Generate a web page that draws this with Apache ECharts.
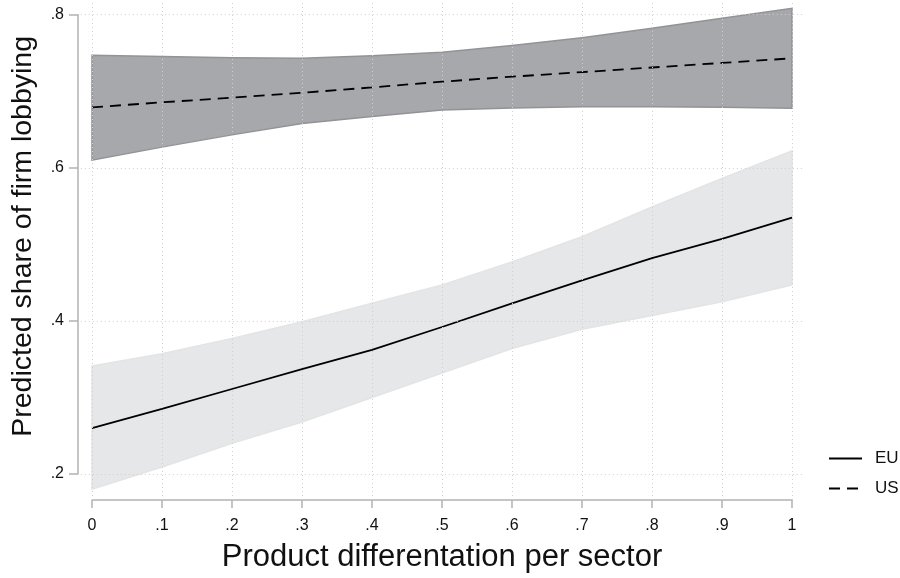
<!DOCTYPE html>
<html>
<head>
<meta charset="utf-8">
<script src="https://cdn.jsdelivr.net/npm/echarts@6/dist/echarts.min.js"></script>
<style>html,body{margin:0;padding:0;background:#fff;}#c{width:900px;height:578px;}</style>
</head>
<body>
<div id="c"></div>
<script>
// ---- data ----
const xValues = [0, 0.1, 0.2, 0.3, 0.4, 0.5, 0.6, 0.7, 0.8, 0.9, 1];
const euFit   = [0.260, 0.285, 0.311, 0.337, 0.362, 0.392, 0.423, 0.453, 0.482, 0.507, 0.535];
const euLower = [0.180, 0.209, 0.240, 0.268, 0.300, 0.332, 0.364, 0.389, 0.407, 0.425, 0.447];
const euUpper = [0.341, 0.357, 0.377, 0.399, 0.423, 0.447, 0.477, 0.510, 0.549, 0.586, 0.622];
const usFit   = [0.679, 0.6855, 0.6916, 0.698, 0.705, 0.7125, 0.719, 0.725, 0.731, 0.737, 0.743];
const usLower = [0.610, 0.627, 0.643, 0.658, 0.667, 0.6755, 0.678, 0.6796, 0.6796, 0.679, 0.6777];
const usUpper = [0.747, 0.7454, 0.7438, 0.743, 0.7465, 0.7509, 0.7598, 0.770, 0.7822, 0.7953, 0.8083];
const seriesNames = ['EU', 'US'];
const xTicks = [0, 0.1, 0.2, 0.3, 0.4, 0.5, 0.6, 0.7, 0.8, 0.9, 1];
const xTickLabels = ['0', '.1', '.2', '.3', '.4', '.5', '.6', '.7', '.8', '.9', '1'];
const yTicks = [0.2, 0.4, 0.6, 0.8];
const yTickLabels = ['.2', '.4', '.6', '.8'];
const xTitle = 'Product differentation per sector';
const yTitle = 'Predicted share of firm lobbying';

const FONT = "'Liberation Sans', Arial, Helvetica, sans-serif";
const AXIS_COLOR = '#b2b2b2';
const GRID_COLOR = '#cfcfcf';

function lookup(ticks, labels, v) {
  for (let i = 0; i < ticks.length; i++) if (Math.abs(ticks[i] - v) < 1e-6) return labels[i];
  return '';
}

function bandRenderer(lower, upper, fill, stroke) {
  return function (params, api) {
    if (params.dataIndex !== 0) return null;
    const pts = [];
    for (let i = 0; i < xValues.length; i++) pts.push(api.coord([xValues[i], upper[i]]));
    for (let i = xValues.length - 1; i >= 0; i--) pts.push(api.coord([xValues[i], lower[i]]));
    return {
      type: 'polygon',
      shape: { points: pts },
      style: { fill: fill, stroke: stroke, lineWidth: 1.5 }
    };
  };
}

const chart = echarts.init(document.getElementById('c'), null, { renderer: 'canvas' });
chart.setOption({
  animation: false,
  backgroundColor: '#ffffff',
  textStyle: { fontFamily: FONT },
  grid: [
    { left: 80.8, right: 96.8, top: 0, bottom: 78 },
    { left: 92, right: 108, top: 14.7, bottom: 104 },
    { left: 78, right: 812, top: 14.7, bottom: 104 }
  ],
  xAxis: [
    { gridIndex: 0, type: 'value', min: -0.016, max: 1.016, show: false },
    {
      gridIndex: 1, type: 'value', min: 0, max: 1, interval: 0.1, offset: 31,
      axisLine: { show: true, onZero: false, lineStyle: { color: AXIS_COLOR, width: 1.5 } },
      axisTick: { show: true, length: 8, lineStyle: { color: AXIS_COLOR, width: 1.5 } },
      axisLabel: { margin: 18, fontSize: 16, color: '#111', fontFamily: FONT,
        formatter: v => lookup(xTicks, xTickLabels, v) },
      splitLine: { show: false },
      name: xTitle, nameLocation: 'middle', nameGap: 42,
      nameTextStyle: { fontSize: 31, color: '#111', fontFamily: FONT }
    },
    { gridIndex: 2, type: 'value', min: 0, max: 1, show: false }
  ],
  yAxis: [
    { gridIndex: 0, type: 'value', min: 0.166, max: 0.8192, show: false },
    { gridIndex: 1, type: 'value', min: 0.2, max: 0.8, show: false },
    {
      gridIndex: 2, type: 'value', min: 0.2, max: 0.8, interval: 0.2, position: 'left',
      axisLine: { show: true, lineStyle: { color: AXIS_COLOR, width: 1.5 } },
      axisTick: { show: true, inside: false, length: 9, lineStyle: { color: AXIS_COLOR, width: 1.5 } },
      axisLabel: { margin: 14, fontSize: 16, color: '#111', fontFamily: FONT,
        formatter: v => lookup(yTicks, yTickLabels, v) },
      splitLine: { show: false },
      name: yTitle, nameLocation: 'middle', nameGap: 40,
      nameTextStyle: { fontSize: 28.5, color: '#111', fontFamily: FONT, padding: [0, 0, 0, 16] }
    }
  ],
  legend: {
    data: seriesNames,
    orient: 'vertical',
    left: 823, top: 445,
    itemWidth: 33, itemHeight: 14, itemGap: 13,
    itemStyle: { opacity: 0 },
    textStyle: { fontSize: 17, color: '#111', fontFamily: FONT, padding: [0, 0, 0, 8] }
  },
  series: [
    {
      type: 'line', name: 'grid', xAxisIndex: 0, yAxisIndex: 0, z: 1, silent: true,
      data: xValues.map((x, i) => [x, euFit[i]]), symbol: 'none',
      lineStyle: { opacity: 0, width: 0 },
      markLine: {
        silent: true, symbol: ['none', 'none'], label: { show: false },
        lineStyle: { color: GRID_COLOR, type: [1, 3], width: 1, opacity: 1 },
        emphasis: { disabled: true },
        data: xTicks.map(v => ({ xAxis: v })).concat(yTicks.map(v => ({ yAxis: v })))
      }
    },
    {
      type: 'custom', xAxisIndex: 0, yAxisIndex: 0, z: 2, silent: true,
      data: xValues.map((x, i) => [x, euLower[i], euUpper[i]]),
      encode: { x: 0, y: [1, 2] },
      renderItem: bandRenderer(euLower, euUpper, '#e6e7e8', '#e3e4e5')
    },
    {
      type: 'custom', xAxisIndex: 0, yAxisIndex: 0, z: 2, silent: true,
      data: xValues.map((x, i) => [x, usLower[i], usUpper[i]]),
      encode: { x: 0, y: [1, 2] },
      renderItem: bandRenderer(usLower, usUpper, '#a7a8ab', '#929396')
    },
    {
      type: 'line', name: seriesNames[0], xAxisIndex: 0, yAxisIndex: 0, z: 3,
      data: xValues.map((x, i) => [x, euFit[i]]),
      symbol: 'none', smooth: false,
      lineStyle: { color: '#000', width: 1.8, type: 'solid' },
      itemStyle: { color: '#000' }
    },
    {
      type: 'line', name: seriesNames[1], xAxisIndex: 0, yAxisIndex: 0, z: 3,
      data: xValues.map((x, i) => [x, usFit[i]]),
      symbol: 'none', smooth: false,
      lineStyle: { color: '#000', width: 1.8, type: [11, 7] },
      itemStyle: { color: '#000' }
    }
  ]
});
</script>
</body>
</html>
